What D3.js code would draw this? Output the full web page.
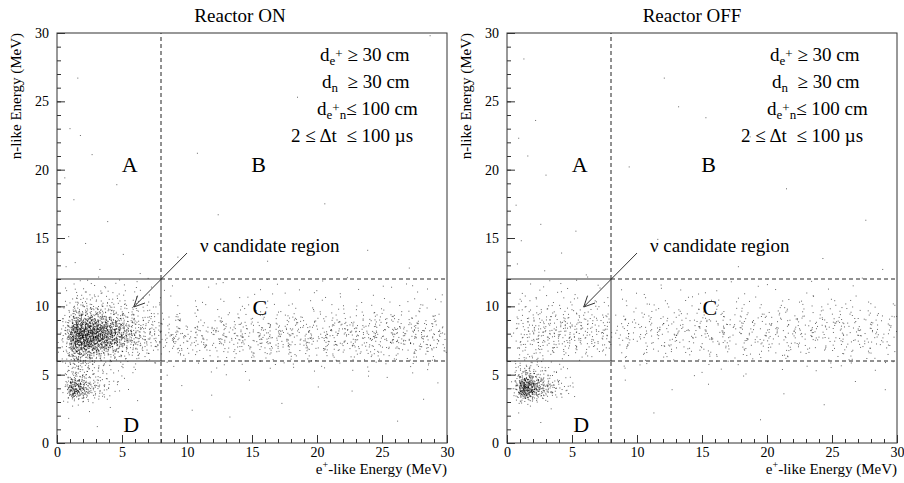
<!DOCTYPE html>
<html>
<head>
<meta charset="utf-8">
<script src="https://cdn.jsdelivr.net/npm/d3@7"></script>
<style>
body { margin: 0; background: #fff; }
</style>
</head>
<body>
<div id="main"></div>
<script>
// counts per 0.5 x 0.5 MeV cell, e+ energy 0-8, rows from n energy 12 down to 3
const onBox = [
    [0,0,1,1,1,1,1,1,1,1,1,0,1,1,0,0],
    [0,1,1,1,2,1,1,1,1,1,1,1,0,1,1,0],
    [0,1,2,3,3,3,2,2,2,2,1,1,1,1,1,1],
    [0,1,3,5,5,5,4,4,3,3,2,2,2,1,1,1],
    [1,2,6,9,9,9,8,7,6,5,4,3,3,2,2,1],
    [1,3,14,18,18,17,15,13,11,9,7,6,4,3,3,2],
    [1,5,28,38,38,36,32,28,23,18,13,9,7,5,4,3],
    [2,6,45,62,62,58,52,45,36,27,19,13,9,7,5,4],
    [2,7,50,68,66,62,55,47,37,28,20,14,10,7,5,4],
    [2,6,40,54,52,48,42,35,27,20,15,11,8,6,4,3],
    [1,4,24,30,27,22,19,15,12,9,7,5,4,3,3,2],
    [1,3,14,16,13,11,8,7,5,4,3,3,2,2,1,1],
    [0,2,9,9,7,5,4,3,2,2,1,1,1,1,0,0],
    [0,2,8,8,6,4,3,2,2,1,1,1,1,0,0,0],
    [0,3,13,11,8,5,4,2,2,1,1,0,0,0,0,0],
    [0,6,48,34,18,10,7,4,2,1,1,0,0,0,0,0],
    [0,6,52,38,18,10,7,4,2,1,0,0,0,0,0,0],
    [0,2,9,7,4,3,2,1,1,0,0,0,0,0,0,0]
];
const offBox = [
    [0,0,0,1,0,0,1,1,0,0,0,1,1,0,0,0],
    [0,0,1,0,1,1,0,0,1,1,0,0,0,1,1,0],
    [0,1,0,1,1,0,1,1,1,0,1,1,0,1,0,1],
    [0,1,1,1,1,1,1,1,1,1,1,1,1,1,1,0],
    [0,1,2,2,2,2,2,2,2,2,2,2,1,1,1,1],
    [0,1,3,3,3,3,3,3,3,3,3,3,3,2,2,2],
    [0,2,3,4,4,4,4,4,5,5,4,4,4,4,3,3],
    [0,2,4,4,5,5,5,5,5,5,5,5,4,4,4,3],
    [0,2,4,4,5,5,5,5,5,5,5,4,4,4,3,3],
    [0,2,3,4,4,4,4,4,4,4,4,3,3,3,3,2],
    [0,1,3,3,3,3,3,3,2,2,2,2,2,2,1,1],
    [0,2,3,3,2,2,1,1,1,1,1,1,1,1,0,0],
    [0,2,4,4,3,2,1,1,1,0,0,0,0,0,0,0],
    [0,3,9,9,6,4,2,2,1,1,0,0,0,0,0,0],
    [0,7,26,24,14,8,5,3,2,1,0,0,0,0,0,0],
    [0,10,65,60,32,18,11,6,4,2,1,0,0,0,0,0],
    [0,10,68,60,30,16,10,6,3,2,1,0,0,0,0,0],
    [0,3,13,11,7,4,2,1,1,0,0,0,0,0,0,0]
];
// counts per 2 x 0.5 MeV cell, e+ energy 8-30, rows from n energy 12 down to 5
const onBand = [
    [1,0,1,1,1,0,1,1,1,1,1],
    [1,1,1,1,1,1,1,1,1,1,1],
    [1,1,1,2,1,1,2,1,2,1,2],
    [2,2,2,2,2,2,2,2,2,2,2],
    [3,2,3,3,3,3,3,4,4,4,3],
    [5,5,5,6,6,7,7,8,8,8,7],
    [10,8,10,11,11,12,12,13,13,13,12],
    [17,14,15,16,16,16,17,18,18,18,16],
    [21,16,16,18,18,18,19,19,19,19,19],
    [18,14,14,16,16,16,16,16,16,16,16],
    [8,8,8,10,10,10,10,10,10,10,10],
    [3,3,3,5,5,5,5,5,5,5,5],
    [2,2,2,2,2,2,2,2,2,2,2],
    [1,1,1,1,1,1,1,1,1,1,1]
];
const offBand = [
    [0,1,1,0,1,0,1,1,0,1,0],
    [1,1,1,1,0,1,1,0,1,1,1],
    [1,2,1,2,1,2,1,2,2,1,1],
    [2,3,3,3,3,3,3,3,3,3,2],
    [3,4,4,4,4,4,4,5,5,4,3],
    [6,6,7,7,7,7,7,8,8,7,6],
    [8,8,10,10,10,10,10,11,11,10,8],
    [10,10,11,11,11,11,11,11,11,11,10],
    [10,10,10,10,11,11,11,11,11,10,10],
    [8,7,8,8,8,8,8,8,8,8,7],
    [6,4,6,6,6,6,6,6,6,6,4],
    [3,3,3,3,3,3,3,3,3,3,3],
    [1,1,1,1,1,1,1,1,1,1,1],
    [1,0,1,1,1,1,0,1,1,1,0]
];
// isolated events outside the gridded regions
const onStray = [
    [1.6,26.7],[1.0,23.0],[1.8,22.5],[2.7,21.1],[0.6,19.4],[1.3,17.8],[3.9,16.2],[0.9,15.1],
    [2.2,14.6],[5.1,13.8],[1.4,13.2],[3.3,12.7],[6.4,12.4],[0.7,12.9],[4.6,18.9],
    [10.8,21.2],[28.7,29.8],[18.5,25.3],[12.4,16.7],[23.9,14.1],[16.2,13.3],[27.1,12.8],
    [20.6,17.5],[9.3,13.6],
    [9.6,4.2],[11.9,3.5],[14.8,4.6],[17.3,2.9],[20.1,4.1],[22.7,3.8],[25.4,4.8],[28.2,3.2],
    [29.3,4.4],[13.3,1.9],[26.2,1.6],[10.4,2.4],
    [1.2,2.7],[2.5,2.3],[0.9,1.8],[4.1,2.6],[6.2,3.1],[3.1,1.2]
];
const offStray = [
    [1.3,28.1],[2.2,23.6],[0.9,22.3],[1.6,21.0],[3.0,19.6],[0.7,17.4],[2.6,16.0],[1.1,14.8],
    [4.2,13.9],[0.8,13.1],[2.9,12.6],[6.1,12.3],[5.3,15.5],
    [12.1,26.7],[13.2,24.6],[15.3,23.8],[18.7,22.4],[21.5,18.6],[11.6,14.9],[24.3,13.5],
    [17.8,12.9],[27.6,16.3],[9.4,20.2],[28.9,12.7],
    [9.1,4.6],[12.7,3.9],[15.5,4.3],[18.2,4.9],[21.3,3.6],[24.4,2.8],[26.8,4.5],[29.1,3.9],
    [11.3,2.2],[19.5,1.7],
    [1.8,2.7],[0.9,2.2],[3.4,2.5],[5.2,3.4],[2.6,1.5]
];

const majorTicks = [0, 5, 10, 15, 20, 25, 30];
const minorTicks = d3.range(0, 31);
const eCut = 8, nLow = 6, nHigh = 12;
const regionLabels = [
    { t: 'A', x: 5.6, y: 19.8 },
    { t: 'B', x: 15.5, y: 19.8 },
    { t: 'C', x: 15.6, y: 9.4 },
    { t: 'D', x: 5.7, y: 0.8 }
];

const FONT = '"Liberation Serif", serif';
const width = 904, height = 483;
const plotTop = 33, plotBottom = 443;
const panels = [
    { left: 57, right: 447, title: 'Reactor ON', titleX: 240, box: onBox, band: onBand, stray: onStray },
    { left: 507, right: 897, title: 'Reactor OFF', titleX: 692, box: offBox, band: offBand, stray: offStray }
];

const svg = d3.select('#main').append('svg')
    .attr('width', width).attr('height', height);

function halton(i, b) {
    let f = 1, r = 0;
    while (i > 0) { f /= b; r += f * (i % b); i = Math.floor(i / b); }
    return r;
}

function drawPanel(p) {
    const x = d3.scaleLinear().domain([0, 30]).range([p.left, p.right]);
    const y = d3.scaleLinear().domain([0, 30]).range([plotBottom, plotTop]);
    const g = svg.append('g');

    // place each cell's events around the cell centre (tent-shaped spread)
    const pts = [];
    let k = 37;
    function fill(grid, x0, dx, y0, dy) {
        grid.forEach((row, r) => row.forEach((n, c) => {
            const cx = x0 + (c + 0.5) * dx, cy = y0 - (r + 0.5) * dy;
            for (let i = 0; i < n; i++, k++) {
                const u = halton(k, 2) + halton(k, 5) - 1;
                const v = halton(k, 3) + halton(k, 7) - 1;
                pts.push([cx + u * dx, cy + v * dy]);
            }
        }));
    }
    fill(p.box, 0, 0.5, 12, 0.5);
    fill(p.band, 8, 2, 12, 0.5);
    p.stray.forEach(d => pts.push(d));

    g.selectAll('.pt')
        .data(pts.filter(d => d[0] > 0 && d[0] < 30 && d[1] > 0 && d[1] < 30))
        .join('rect')
            .attr('class', 'pt')
            .attr('x', d => x(d[0]) - 0.5)
            .attr('y', d => y(d[1]) - 0.5)
            .attr('width', 1)
            .attr('height', 1)
            .style('fill', '#000')
            .style('opacity', 0.6);

    // cut lines
    const dashed = [
        [eCut, 0, eCut, nLow], [eCut, nHigh, eCut, 30],
        [eCut, nHigh, 30, nHigh], [eCut, nLow, 30, nLow]
    ];
    g.selectAll('.dash')
        .data(dashed)
        .join('line')
            .attr('x1', d => x(d[0])).attr('y1', d => y(d[1]))
            .attr('x2', d => x(d[2])).attr('y2', d => y(d[3]))
            .style('stroke', '#222').style('stroke-dasharray', '4,3');
    g.append('rect')
        .attr('x', x(0)).attr('y', y(nHigh))
        .attr('width', x(eCut) - x(0)).attr('height', y(nLow) - y(nHigh))
        .style('fill', 'none').style('stroke', '#333');

    g.append('rect')
        .attr('x', p.left).attr('y', plotTop)
        .attr('width', p.right - p.left).attr('height', plotBottom - plotTop)
        .style('fill', 'none').style('stroke', '#333');

    // axes
    const xMinor = g.append('g').attr('transform', `translate(0,${plotBottom})`)
        .call(d3.axisBottom(x).tickValues(minorTicks).tickSize(-4).tickFormat(''));
    const xMajor = g.append('g').attr('transform', `translate(0,${plotBottom})`)
        .call(d3.axisBottom(x).tickValues(majorTicks).tickSize(-8).tickPadding(4));
    const yMinor = g.append('g').attr('transform', `translate(${p.left},0)`)
        .call(d3.axisLeft(y).tickValues(minorTicks).tickSize(-4).tickFormat(''));
    const yMajor = g.append('g').attr('transform', `translate(${p.left},0)`)
        .call(d3.axisLeft(y).tickValues(majorTicks).tickSize(-8).tickPadding(8));
    [xMinor, xMajor, yMinor, yMajor].forEach(a => {
        a.select('.domain').remove();
        a.selectAll('line').style('stroke', '#333');
        a.selectAll('text').style('font-size', '14px').style('fill', '#000');
    });

    // region letters
    g.selectAll('.reg')
        .data(regionLabels)
        .join('text')
            .attr('x', d => x(d.x)).attr('y', d => y(d.y))
            .style('font-size', '22px').style('text-anchor', 'middle')
            .text(d => d.t);

    // candidate region arrow
    const a0 = [x(10.0), y(13.9)], a1 = [x(5.9), y(9.95)];
    const ang = Math.atan2(a0[1] - a1[1], a0[0] - a1[0]);
    const head = [-0.45, 0.45].map(s => [a1[0] + 12 * Math.cos(ang + s), a1[1] + 12 * Math.sin(ang + s)]);
    g.append('path')
        .attr('d', `M${a0}L${a1}M${head[0]}L${a1}L${head[1]}`)
        .style('fill', 'none').style('stroke', '#333');
    g.append('text')
        .attr('x', x(11.0)).attr('y', y(14.0))
        .style('font-size', '19px')
        .text('\u03bd candidate region');

    // title
    svg.append('text')
        .attr('x', p.titleX).attr('y', 22)
        .style('font-size', '19px').style('text-anchor', 'middle')
        .text(p.title);

    // cuts legend
    const cuts = g.append('g').style('font-size', '19px');
    const l1 = cuts.append('text').attr('x', p.left + 263).attr('y', 61);
    l1.append('tspan').text('d');
    l1.append('tspan').attr('dy', 4).style('font-size', '13px').text('e');
    l1.append('tspan').attr('dy', -7).style('font-size', '13px').text('+');
    l1.append('tspan').attr('dy', 3).text(' \u2265 30 cm');

    const l2 = cuts.append('text').attr('x', p.left + 265).attr('y', 88);
    l2.append('tspan').text('d');
    l2.append('tspan').attr('dy', 4).style('font-size', '13px').text('n');
    l2.append('tspan').attr('dy', -4).text('\u00a0 \u2265 30 cm');

    const l3 = cuts.append('text').attr('x', p.left + 260).attr('y', 115);
    l3.append('tspan').text('d');
    l3.append('tspan').attr('dy', 4).style('font-size', '13px').text('e');
    l3.append('tspan').attr('dy', -7).style('font-size', '13px').text('+');
    l3.append('tspan').attr('dy', 7).style('font-size', '13px').text('n');
    l3.append('tspan').attr('dy', -4).text('\u2264 100 cm');

    cuts.append('text').attr('x', p.left + 234).attr('y', 142)
        .text('2 \u2264 \u0394t \u00a0\u2264 100 \u00b5s');

    // axis titles
    svg.append('text')
        .attr('transform', `translate(${p.left - 36},${plotTop}) rotate(-90)`)
        .style('font-size', '15px').style('text-anchor', 'end')
        .text('n-like Energy (MeV)');
    const xt = svg.append('text')
        .attr('x', p.right).attr('y', 474)
        .style('font-size', '15px').style('text-anchor', 'end');
    xt.append('tspan').text('e');
    xt.append('tspan').attr('dy', -6).style('font-size', '10px').text('+');
    xt.append('tspan').attr('dy', 6).text('-like Energy (MeV)');
}

panels.forEach(drawPanel);

// one serif family on every text, set on the element itself
svg.selectAll('text').style('font-family', FONT);
</script>
</body>
</html>
